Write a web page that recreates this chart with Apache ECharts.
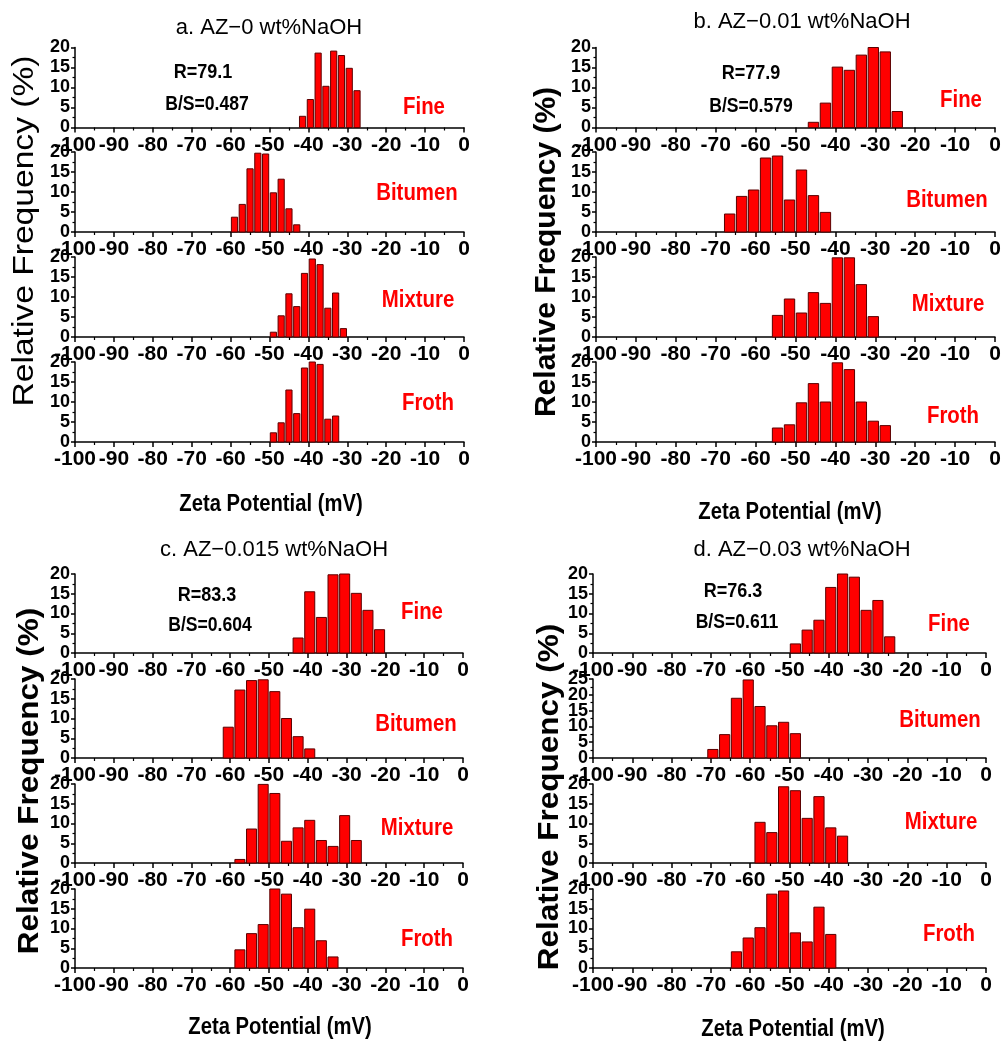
<!DOCTYPE html>
<html>
<head>
<meta charset="utf-8">
<script src="https://cdn.jsdelivr.net/npm/echarts@6/dist/echarts.min.js"></script>
<style>
  html, body { margin: 0; padding: 0; background: #ffffff; }
  #chart { width: 1005px; height: 1046px; }
</style>
</head>
<body>
<div id="chart"></div>
<script>
// ---------- data ----------
const panelTitles = ['a. AZ\u22120 wt%NaOH', 'b. AZ\u22120.01 wt%NaOH', 'c. AZ\u22120.015 wt%NaOH', 'd. AZ\u22120.03 wt%NaOH'];
const recoveryLabels = ['R=79.1', 'R=77.9', 'R=83.3', 'R=76.3'];
const bsRatioLabels = ['B/S=0.487', 'B/S=0.579', 'B/S=0.604', 'B/S=0.611'];
const sampleNames = ['Fine', 'Bitumen', 'Mixture', 'Froth'];
const zetaTickLabels = [-100, -90, -80, -70, -60, -50, -40, -30, -20, -10, 0];
const freqTickLabels = [0, 5, 10, 15, 20];
const freqTickLabelsWide = [0, 5, 10, 15, 20, 25];
const xAxisTitle = 'Zeta Potential (mV)';
const yAxisTitle = 'Relative Frequency (%)';

// histogram bin width (mV) of each panel
const binWidths = [2, 3, 3, 3];

// a. 0 wt% NaOH
const aFineZeta = [-41.5, -39.5, -37.5, -35.5, -33.5, -31.5, -29.5, -27.5];
const aFineFreq = [2.8, 7.0, 18.6, 10.3, 19.1, 18.0, 14.8, 9.2];
const aBitumenZeta = [-59, -57, -55, -53, -51, -49, -47, -45, -43];
const aBitumenFreq = [3.7, 6.9, 15.8, 19.7, 19.5, 9.8, 13.2, 5.8, 1.8];
const aMixtureZeta = [-49, -47, -45, -43, -41, -39, -37, -35, -33, -31];
const aMixtureFreq = [1.2, 5.3, 10.8, 7.6, 15.9, 19.5, 18.1, 7.2, 11.0, 2.1];
const aFrothZeta = [-49, -47, -45, -43, -41, -39, -37, -35, -33];
const aFrothFreq = [2.3, 4.8, 13.0, 7.1, 18.5, 20.0, 19.4, 5.7, 6.5];

// b. 0.01 wt% NaOH
const bFineZeta = [-45.5, -42.5, -39.5, -36.5, -33.5, -30.5, -27.5, -24.5];
const bFineFreq = [1.3, 6.1, 15.1, 14.3, 18.1, 20.0, 18.9, 4.0];
const bBitumenZeta = [-66.5, -63.5, -60.5, -57.5, -54.5, -51.5, -48.5, -45.5, -42.5];
const bBitumenFreq = [4.5, 8.9, 10.5, 18.5, 19.0, 8.0, 15.5, 9.1, 4.9];
const bMixtureZeta = [-54.5, -51.5, -48.5, -45.5, -42.5, -39.5, -36.5, -33.5, -30.5];
const bMixtureFreq = [5.4, 9.5, 6.0, 11.1, 8.4, 19.8, 19.8, 13.1, 5.1];
const bFrothZeta = [-54.5, -51.5, -48.5, -45.5, -42.5, -39.5, -36.5, -33.5, -30.5, -27.5];
const bFrothFreq = [3.5, 4.3, 9.8, 14.6, 10.0, 19.8, 18.1, 10.0, 5.2, 4.1];

// c. 0.015 wt% NaOH
const cFineZeta = [-42.5, -39.5, -36.5, -33.5, -30.5, -27.5, -24.5, -21.5];
const cFineFreq = [3.8, 15.5, 9.0, 19.8, 20.0, 15.1, 10.8, 5.9];
const cBitumenZeta = [-60.5, -57.5, -54.5, -51.5, -48.5, -45.5, -42.5, -39.5];
const cBitumenFreq = [7.8, 17.2, 19.6, 19.8, 16.8, 10.0, 5.4, 2.3];
const cMixtureZeta = [-57.5, -54.5, -51.5, -48.5, -45.5, -42.5, -39.5, -36.5, -33.5, -30.5, -27.5];
const cMixtureFreq = [0.9, 8.6, 19.9, 17.6, 5.5, 8.9, 10.8, 5.7, 4.2, 12.0, 5.7];
const cFrothZeta = [-57.5, -54.5, -51.5, -48.5, -45.5, -42.5, -39.5, -36.5, -33.5];
const cFrothFreq = [4.6, 8.7, 11.0, 20.0, 18.7, 10.2, 14.9, 6.9, 2.8];

// d. 0.03 wt% NaOH
const dFineZeta = [-48.5, -45.5, -42.5, -39.5, -36.5, -33.5, -30.5, -27.5, -24.5];
const dFineFreq = [2.3, 5.8, 8.3, 16.6, 20.0, 19.2, 10.8, 13.3, 4.1];
const dBitumenZeta = [-69.5, -66.5, -63.5, -60.5, -57.5, -54.5, -51.5, -48.5];
const dBitumenFreq = [2.7, 7.4, 18.9, 24.7, 16.3, 10.2, 11.3, 7.7];
const dMixtureZeta = [-57.5, -54.5, -51.5, -48.5, -45.5, -42.5, -39.5, -36.5];
const dMixtureFreq = [10.3, 7.7, 19.3, 18.3, 11.3, 16.8, 8.9, 6.8];
const dFrothZeta = [-63.5, -60.5, -57.5, -54.5, -51.5, -48.5, -45.5, -42.5, -39.5];
const dFrothFreq = [4.1, 7.6, 10.2, 18.7, 19.5, 8.9, 6.6, 15.4, 8.5];

const panelData = [
  [[aFineZeta, aFineFreq], [aBitumenZeta, aBitumenFreq], [aMixtureZeta, aMixtureFreq], [aFrothZeta, aFrothFreq]],
  [[bFineZeta, bFineFreq], [bBitumenZeta, bBitumenFreq], [bMixtureZeta, bMixtureFreq], [bFrothZeta, bFrothFreq]],
  [[cFineZeta, cFineFreq], [cBitumenZeta, cBitumenFreq], [cMixtureZeta, cMixtureFreq], [cFrothZeta, cFrothFreq]],
  [[dFineZeta, dFineFreq], [dBitumenZeta, dBitumenFreq], [dMixtureZeta, dMixtureFreq], [dFrothZeta, dFrothFreq]]
];
// y tick set per panel / sample (panel d bitumen runs to 25)
const panelFreqTicks = [
  [freqTickLabels, freqTickLabels, freqTickLabels, freqTickLabels],
  [freqTickLabels, freqTickLabels, freqTickLabels, freqTickLabels],
  [freqTickLabels, freqTickLabels, freqTickLabels, freqTickLabels],
  [freqTickLabels, freqTickLabelsWide, freqTickLabels, freqTickLabels]
];

// ---------- layout ----------
const FONT = "'Liberation Sans', Arial, Helvetica, sans-serif";
const NARROW = "'Liberation Sans Narrow', 'Arial Narrow', 'Liberation Sans', Arial, sans-serif";
const RED = '#ff0000';

const layout = [
  { left: 75,  width: 389, bottoms: [127.5, 232, 337, 442], height: 80,
    title: [269, 28], r: [203, 72], bs: [207, 104],
    names: [[424, 107], [417, 193], [418, 300], [428, 403]],
    xTitle: [271, 505], yTitle: [25, 231], yTitleBold: false, yTitleScale: 1.12 },
  { left: 596, width: 399, bottoms: [127.5, 232, 337, 442], height: 80,
    title: [802, 22], r: [751, 73], bs: [751, 106],
    names: [[961, 100], [947, 200], [948, 304], [953, 416]],
    xTitle: [790, 513], yTitle: [547, 252], yTitleBold: true, yTitleScale: 1.0 },
  { left: 75,  width: 388, bottoms: [653, 758, 863, 968], height: 79,
    title: [274, 550], r: [207, 595], bs: [210, 625],
    names: [[422, 612], [416, 724], [417, 828], [427, 939]],
    xTitle: [280, 1028], yTitle: [30, 781], yTitleBold: true, yTitleScale: 1.05 },
  { left: 593, width: 393, bottoms: [653, 758, 863, 968], height: 79,
    title: [802, 550], r: [733, 591], bs: [737, 622],
    names: [[949, 624], [940, 720], [941, 822], [949, 934]],
    xTitle: [793, 1030], yTitle: [550, 797], yTitleBold: true, yTitleScale: 1.05 }
];

// draws one histogram bin as a rectangle spanning its full bin width
function binRenderer(binWidth) {
  return function (params, api) {
    const c = api.value(0);
    const v = api.value(1);
    const p0 = api.coord([c - binWidth / 2, 0]);
    const p1 = api.coord([c + binWidth / 2, v]);
    const gap = 1.6;
    return {
      type: 'rect',
      shape: { x: p0[0] + gap / 2, y: p1[1], width: p1[0] - p0[0] - gap, height: p0[1] - p1[1] },
      style: { fill: RED, stroke: '#5c0000', lineWidth: 1 }
    };
  };
}

const grids = [], xAxes = [], yAxes = [], series = [], graphics = [];

function textEl(x, y, text, font, fill, opts) {
  opts = opts || {};
  return {
    type: 'text', x: x, y: y, rotation: opts.rotation || 0,
    scaleX: opts.scaleX || 1, scaleY: 1, silent: true,
    style: {
      text: text, font: font, fill: fill,
      align: 'center', verticalAlign: 'middle',
      textAlign: 'center', textVerticalAlign: 'middle'
    }
  };
}

// frequency axis; `labelFilter` picks which tick values carry a label
function freqAxis(gridIndex, ticks, labelFilter, drawLine) {
  return {
    type: 'value', gridIndex: gridIndex, position: 'left', offset: 0,
    min: ticks[0], max: ticks[ticks.length - 1], interval: ticks[1] - ticks[0],
    axisLine: { show: drawLine, onZero: false, lineStyle: { color: '#000', width: 1.5 } },
    axisTick: { show: drawLine, inside: false, length: 4, lineStyle: { color: '#000', width: 1.5 } },
    minorTick: { show: drawLine, splitNumber: 2, length: 2.5, lineStyle: { color: '#000', width: 1.2 } },
    splitLine: { show: false },
    axisLabel: {
      margin: 5, color: '#000', fontFamily: FONT, fontWeight: 'bold', fontSize: 18,
      showMinLabel: true, showMaxLabel: true, hideOverlap: false,
      formatter: function (v) { return labelFilter(v) ? String(v) : ''; }
    }
  };
}

layout.forEach(function (L, p) {
  for (let s = 0; s < 4; s++) {
    const idx = grids.length;
    const yTicks = panelFreqTicks[p][s];
    grids.push({ left: L.left, width: L.width, top: L.bottoms[s] - L.height, height: L.height, containLabel: false });
    xAxes.push({
      type: 'value', gridIndex: idx,
      min: zetaTickLabels[0], max: zetaTickLabels[zetaTickLabels.length - 1],
      interval: zetaTickLabels[1] - zetaTickLabels[0],
      axisLine: { onZero: false, lineStyle: { color: '#000', width: 1.5 } },
      axisTick: { show: true, inside: false, length: 5, lineStyle: { color: '#000', width: 1.5 } },
      minorTick: { show: true, splitNumber: 2, length: 3, lineStyle: { color: '#000', width: 1.2 } },
      splitLine: { show: false },
      axisLabel: { margin: 7, color: '#000', fontFamily: NARROW, fontWeight: 'bold', fontSize: 21,
                   showMinLabel: true, showMaxLabel: true, hideOverlap: false }
    });
    const yIdx = yAxes.length;
    if (yTicks.length > 5) {
      // tightly packed scale: labels split over two overlaid axes so each set keeps its own spacing
      yAxes.push(freqAxis(idx, yTicks, function (v) { return v % 10 === 0; }, true));
      yAxes.push(freqAxis(idx, yTicks, function (v) { return v % 10 !== 0; }, false));
    } else {
      yAxes.push(freqAxis(idx, yTicks, function () { return true; }, true));
    }
    const zeta = panelData[p][s][0];
    const freq = panelData[p][s][1];
    series.push({
      type: 'custom', xAxisIndex: idx, yAxisIndex: yIdx,
      renderItem: binRenderer(binWidths[p]),
      encode: { x: 0, y: 1 },
      data: zeta.map(function (z, i) { return [z, freq[i]]; }),
      animation: false, silent: true
    });
    graphics.push(textEl(L.names[s][0], L.names[s][1], sampleNames[s], 'bold 24px ' + FONT, RED, { scaleX: 0.85 }));
  }
  graphics.push(textEl(L.title[0], L.title[1], panelTitles[p], '22px ' + FONT, '#000'));
  graphics.push(textEl(L.r[0], L.r[1], recoveryLabels[p], 'bold 20px ' + FONT, '#000', { scaleX: 0.9 }));
  graphics.push(textEl(L.bs[0], L.bs[1], bsRatioLabels[p], 'bold 20px ' + FONT, '#000', { scaleX: 0.88 }));
  graphics.push(textEl(L.xTitle[0], L.xTitle[1], xAxisTitle, 'bold 23px ' + FONT, '#000', { scaleX: 0.88 }));
  graphics.push(textEl(L.yTitle[0], L.yTitle[1], yAxisTitle,
    (L.yTitleBold ? 'bold 30px ' : '30px ') + FONT, '#000', { rotation: Math.PI / 2, scaleX: L.yTitleScale }));
});

const chart = echarts.init(document.getElementById('chart'), null, { renderer: 'canvas' });
chart.setOption({
  animation: false,
  backgroundColor: '#ffffff',
  grid: grids,
  xAxis: xAxes,
  yAxis: yAxes,
  series: series,
  graphic: { elements: graphics }
});
</script>
</body>
</html>
